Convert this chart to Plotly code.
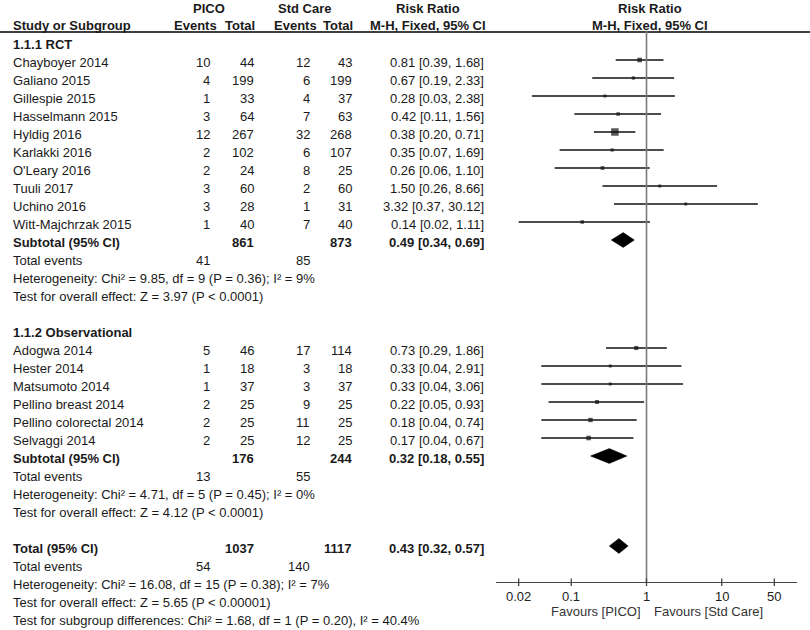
import plotly.graph_objects as go
import math

# ---------------- data ----------------
studies_rct = ["Chayboyer 2014", "Galiano 2015", "Gillespie 2015", "Hasselmann 2015", "Hyldig 2016",
               "Karlakki 2016", "O'Leary 2016", "Tuuli 2017", "Uchino 2016", "Witt-Majchrzak 2015"]
pico_ev_rct = [10, 4, 1, 3, 12, 2, 2, 3, 3, 1]
pico_n_rct = [44, 199, 33, 64, 267, 102, 24, 60, 28, 40]
std_ev_rct = [12, 6, 4, 7, 32, 6, 8, 2, 1, 7]
std_n_rct = [43, 199, 37, 63, 268, 107, 25, 60, 31, 40]
rr_rct = [0.81, 0.67, 0.28, 0.42, 0.38, 0.35, 0.26, 1.50, 3.32, 0.14]
lo_rct = [0.39, 0.19, 0.03, 0.11, 0.20, 0.07, 0.06, 0.26, 0.37, 0.02]
hi_rct = [1.68, 2.33, 2.38, 1.56, 0.71, 1.69, 1.10, 8.66, 30.12, 1.11]

studies_obs = ["Adogwa 2014", "Hester 2014", "Matsumoto 2014", "Pellino breast 2014",
               "Pellino colorectal 2014", "Selvaggi 2014"]
pico_ev_obs = [5, 1, 1, 2, 2, 2]
pico_n_obs = [46, 18, 37, 25, 25, 25]
std_ev_obs = [17, 3, 3, 9, 11, 12]
std_n_obs = [114, 18, 37, 25, 25, 25]
rr_obs = [0.73, 0.33, 0.33, 0.22, 0.18, 0.17]
lo_obs = [0.29, 0.04, 0.04, 0.05, 0.04, 0.04]
hi_obs = [1.86, 2.91, 3.06, 0.93, 0.74, 0.67]

subtotal_labels = ["Subtotal (95% CI)", "Subtotal (95% CI)", "Total (95% CI)"]
subtotal_pico_n = [861, 176, 1037]
subtotal_std_n = [873, 244, 1117]
subtotal_pico_ev = [41, 13, 54]
subtotal_std_ev = [85, 55, 140]
subtotal_rr = [0.49, 0.32, 0.43]
subtotal_lo = [0.34, 0.18, 0.32]
subtotal_hi = [0.69, 0.55, 0.57]

group_titles = ["1.1.1 RCT", "1.1.2 Observational"]
heterogeneity = ["Heterogeneity: Chi² = 9.85, df = 9 (P = 0.36); I² = 9%",
                 "Heterogeneity: Chi² = 4.71, df = 5 (P = 0.45); I² = 0%",
                 "Heterogeneity: Chi² = 16.08, df = 15 (P = 0.38); I² = 7%"]
overall_effect = ["Test for overall effect: Z = 3.97 (P < 0.0001)",
                  "Test for overall effect: Z = 4.12 (P < 0.0001)",
                  "Test for overall effect: Z = 5.65 (P < 0.00001)"]
subgroup_diff = "Test for subgroup differences: Chi² = 1.68, df = 1 (P = 0.20), I² = 40.4%"

tick_vals = [0.02, 0.1, 1, 10, 50]
tick_text = ["0.02", "0.1", "1", "10", "50"]

# ---------------- layout helpers ----------------
W, H = 810, 630
ROW0, ROWH = 42, 18           # pixel of row 0, row height
FONT = "Liberation Sans, Arial, Helvetica, sans-serif"
TXT = "#1a1a1a"


def prow(py):
    return (py - ROW0) / ROWH


def px(x):
    return x / W


def py_paper(py):
    return 1 - py / H


annotations = []


def text(x, row, s, anchor="left", bold=False, size=13, color=TXT, yshift=-2):
    annotations.append(dict(
        x=px(x), xref="paper", y=row, yref="y", text=("<b>%s</b>" % s) if bold else s,
        xanchor=anchor, yanchor="middle", showarrow=False, yshift=yshift,
        font=dict(family=FONT, size=size, color=color), borderpad=0))


def fmt_rr(r, l, h):
    return "%.2f [%.2f, %.2f]" % (r, l, h)


# columns (pixel x)
X_STUDY = 12
X_PE, X_PN, X_SE, X_SN = 211, 255, 311, 353
X_RR = 485

# headers
text(209, prow(8), "PICO", "center", True, yshift=0)
text(304, prow(8), "Std Care", "center", True, yshift=0)
text(428, prow(8), "Risk Ratio", "center", True, yshift=0)
text(650, prow(8), "Risk Ratio", "center", True, yshift=0)
text(X_STUDY, prow(25), "Study or Subgroup", "left", True, yshift=0)
text(218, prow(25), "Events", "right", True, yshift=0)
text(256, prow(25), "Total", "right", True, yshift=0)
text(318, prow(25), "Events", "right", True, yshift=0)
text(354, prow(25), "Total", "right", True, yshift=0)
text(428, prow(25), "M-H, Fixed, 95% CI", "center", True, yshift=0)
text(650, prow(25), "M-H, Fixed, 95% CI", "center", True, yshift=0)

groups = [
    (studies_rct, pico_ev_rct, pico_n_rct, std_ev_rct, std_n_rct, rr_rct, lo_rct, hi_rct),
    (studies_obs, pico_ev_obs, pico_n_obs, std_ev_obs, std_n_obs, rr_obs, lo_obs, hi_obs),
]

ci_x, ci_y, mk_x, mk_y, mk_s = [], [], [], [], []
diamonds = []
row = 0
for g, (names, pe, pn, se, sn, rr, lo, hi) in enumerate(groups):
    text(X_STUDY, row, group_titles[g], "left", True)
    row += 1
    for i in range(len(names)):
        text(X_STUDY, row, names[i])
        text(X_PE, row, str(pe[i]), "right")
        text(X_PN, row, str(pn[i]), "right")
        text(X_SE, row, str(se[i]), "right")
        text(X_SN, row, str(sn[i]), "right")
        text(X_RR, row, fmt_rr(rr[i], lo[i], hi[i]), "right")
        ci_x += [lo[i], hi[i], None]
        ci_y += [row, row, None]
        # Mantel-Haenszel weight -> square size
        w = se[i] * pn[i] / (pn[i] + sn[i])
        mk_x.append(rr[i])
        mk_y.append(row)
        mk_s.append(max(3.0, 7.5 * math.sqrt(w / 16.0)))
        row += 1
    text(X_STUDY, row, subtotal_labels[g], "left", True)
    text(X_PN, row, str(subtotal_pico_n[g]), "right", True)
    text(X_SN, row, str(subtotal_std_n[g]), "right", True)
    text(X_RR, row, fmt_rr(subtotal_rr[g], subtotal_lo[g], subtotal_hi[g]), "right", True)
    diamonds.append((row, subtotal_rr[g], subtotal_lo[g], subtotal_hi[g]))
    row += 1
    text(X_STUDY, row, "Total events")
    text(X_PE, row, str(subtotal_pico_ev[g]), "right")
    text(X_SE, row, str(subtotal_std_ev[g]), "right")
    row += 1
    text(X_STUDY, row, heterogeneity[g])
    row += 1
    text(X_STUDY, row, overall_effect[g])
    row += 2

# overall total
text(X_STUDY, row, subtotal_labels[2], "left", True)
text(X_PN, row, str(subtotal_pico_n[2]), "right", True)
text(X_SN, row, str(subtotal_std_n[2]), "right", True)
text(X_RR, row, fmt_rr(subtotal_rr[2], subtotal_lo[2], subtotal_hi[2]), "right", True)
diamonds.append((row, subtotal_rr[2], subtotal_lo[2], subtotal_hi[2]))
row += 1
text(X_STUDY, row, "Total events")
text(X_PE, row, str(subtotal_pico_ev[2]), "right")
text(X_SE, row, str(subtotal_std_ev[2]), "right")
row += 1
text(X_STUDY, row, heterogeneity[2])
row += 1
text(X_STUDY, row, overall_effect[2])
row += 1
text(X_STUDY, row, subgroup_diff)

fig = go.Figure()
fig.add_trace(go.Scatter(x=ci_x, y=ci_y, mode="lines", line=dict(color="#111111", width=1.3),
                         hoverinfo="skip", showlegend=False))
fig.add_trace(go.Scatter(x=mk_x, y=mk_y, mode="markers",
                         marker=dict(symbol="square", size=mk_s, color="#111111", line=dict(width=0)),
                         hoverinfo="skip", showlegend=False))
for (r, est, lo, hi) in diamonds:
    fig.add_trace(go.Scatter(x=[lo, est, hi, est, lo], y=[r, r - 0.41, r, r + 0.41, r],
                             mode="lines", fill="toself", fillcolor="#000000",
                             line=dict(color="#000000", width=0.5),
                             hoverinfo="skip", showlegend=False))

# tick labels of the forest axis (annotation x on a log axis is given in log10 units)
for tv, tt in zip(tick_vals, tick_text):
    annotations.append(dict(x=math.log10(tv), xref="x", y=prow(596), yref="y", text=tt,
                            xanchor="center", yanchor="middle", showarrow=False, borderpad=0,
                            font=dict(family=FONT, size=13, color="#222222")))

# favours labels
annotations.append(dict(x=0, xref="x", y=prow(611), yref="y", text="Favours [PICO]", xanchor="right",
                        yanchor="middle", xshift=-5, showarrow=False, borderpad=0,
                        font=dict(family=FONT, size=13, color="#333333")))
annotations.append(dict(x=0, xref="x", y=prow(611), yref="y", text="Favours [Std Care]", xanchor="left",
                        yanchor="middle", xshift=6, showarrow=False, borderpad=0,
                        font=dict(family=FONT, size=13, color="#333333")))

shapes = [
    # header rule
    dict(type="line", xref="paper", yref="paper", x0=0, x1=1, y0=py_paper(32), y1=py_paper(32),
         line=dict(color="#000000", width=1.5)),
    # line of no effect
    dict(type="line", xref="x", yref="paper", x0=1, x1=1, y0=py_paper(31), y1=py_paper(582),
         line=dict(color="#7a7a7a", width=1.6)),
]
for tv in tick_vals:
    shapes.append(dict(type="line", xref="x", yref="paper", x0=tv, x1=tv,
                       y0=py_paper(578.5), y1=py_paper(586), line=dict(color="#444444", width=1.3)))

fig.update_layout(
    width=W, height=H, margin=dict(l=0, r=0, t=0, b=0),
    paper_bgcolor="white", plot_bgcolor="white",
    showlegend=False,
    annotations=annotations, shapes=shapes,
    xaxis=dict(type="log", range=[-2, 2], domain=[px(496), px(797)], anchor="free",
               position=py_paper(582), showline=True, linecolor="#444444", linewidth=1.3,
               ticks="", showticklabels=False, showgrid=False, zeroline=False, fixedrange=True),
    yaxis=dict(range=[prow(H), prow(0)], domain=[0, 1], visible=False, showgrid=False,
               zeroline=False, fixedrange=True),
)

# remove the default 8px page margin so the figure sits at the window's top-left corner
fig.write_html("out.html", config={"displayModeBar": False},
               post_script="document.body.style.margin='0px';document.body.style.padding='0px';")
